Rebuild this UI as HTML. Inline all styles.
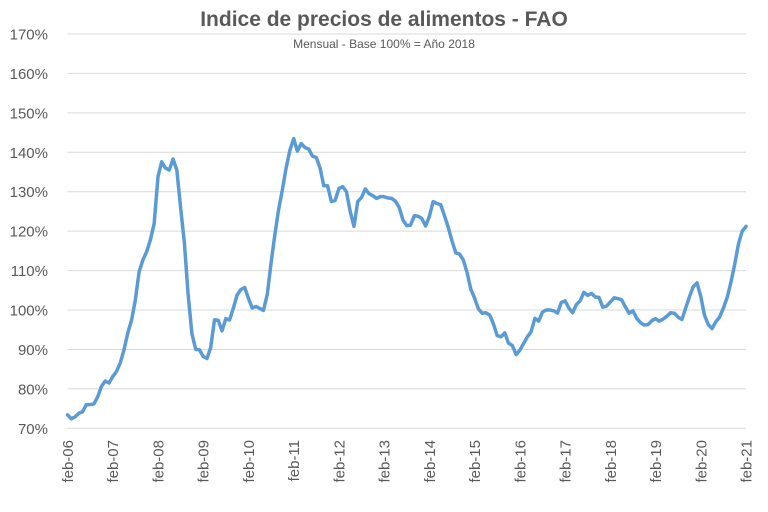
<!DOCTYPE html>
<html><head><meta charset="utf-8"><style>
body{margin:0;background:#fff;width:768px;height:507px;overflow:hidden;font-family:"Liberation Sans",sans-serif}
</style></head><body>
<svg id="chart" width="768" height="507" xmlns="http://www.w3.org/2000/svg">
<text x="384" y="26" text-anchor="middle" font-size="21" font-weight="bold" fill="#595959">Indice de precios de alimentos - FAO</text>
<text x="384" y="48" text-anchor="middle" font-size="12" fill="#595959">Mensual - Base 100% = Año 2018</text>
<g id="grid"></g>
<g id="ylabels"></g>
<g id="xlabels"></g>
<path id="line" fill="none" stroke="#5b9bd5" stroke-width="3.5" stroke-linejoin="round" stroke-linecap="round"/>
</svg>
<script>
const yTicks=[70,80,90,100,110,120,130,140,150,160,170];
const xTickLabels=["feb-06","feb-07","feb-08","feb-09","feb-10","feb-11","feb-12","feb-13","feb-14","feb-15","feb-16","feb-17","feb-18","feb-19","feb-20","feb-21"];
const values=[73.4,72.4,72.9,73.8,74.2,76.0,76.0,76.2,78.0,80.6,82.0,81.5,
83.1,84.4,86.6,89.9,94.2,97.5,102.5,109.7,112.7,114.8,117.8,122,
133.8,137.6,136,135.5,138.3,135.5,126,117,104,94,90,89.9,
88.2,87.7,90.5,97.5,97.4,94.7,97.8,97.5,100.5,103.8,105.2,105.7,
103,100.5,100.9,100.4,99.9,104,112,119,125.5,130.5,136,140.5,
143.5,140.3,142.2,141.2,140.8,139,138.7,136,131.5,131.5,127.5,127.8,
130.8,131.3,130,125,121.2,127.5,128.5,130.7,129.5,129,128.3,128.8,
128.7,128.4,128.3,127.6,126,122.8,121.4,121.5,123.9,123.8,123.2,121.3,
123.8,127.5,127,126.7,124,121,117.5,114.5,114.2,112.7,109.5,105.3,
103,100.3,99.2,99.3,98.7,96.5,93.5,93.2,94.2,91.6,91,88.7,
89.8,91.5,93.2,94.5,97.9,97.2,99.5,100,100,99.8,99.2,101.9,
102.3,100.5,99.3,101.4,102.3,104.5,103.7,104.2,103.3,103.2,100.7,101,
102,103.1,102.9,102.6,100.8,99.2,99.8,97.9,96.8,96.2,96.3,97.3,
97.8,97.2,97.7,98.4,99.3,99.2,98.2,97.6,100.5,103.4,105.9,106.9,
103.4,98.7,96.3,95.3,97,98.2,100.5,103.2,107,111.6,116.8,120,121.2];
const X0=67.5,X1=746,Y70=428.3,Y170=34;
const xs=m=>X0+m*(X1-X0)/180;
const ys=v=>Y70-(v-70)*(Y70-Y170)/100;
const NS="http://www.w3.org/2000/svg";
const grid=document.getElementById('grid'),yl=document.getElementById('ylabels'),xl=document.getElementById('xlabels');
yTicks.forEach(t=>{
 const l=document.createElementNS(NS,'line');
 
 
 l.setAttribute('x1',X0);l.setAttribute('x2',X1);l.setAttribute('y1',ys(t));l.setAttribute('y2',ys(t));
 l.setAttribute('stroke','#d9d9d9');l.setAttribute('stroke-width','1');
 grid.appendChild(l);
 const tx=document.createElementNS(NS,'text');
 
 
 tx.setAttribute('x',48);tx.setAttribute('y',ys(t)+5.5);tx.setAttribute('text-anchor','end');
 tx.setAttribute('font-size','15');tx.setAttribute('fill','#595959');
 tx.textContent=t+'%';yl.appendChild(tx);
});
xTickLabels.forEach((s,i)=>{
 const x=xs(i*12);
 const tx=document.createElementNS(NS,'text');
 
 
 tx.setAttribute('transform','translate('+(x+5.5)+',440) rotate(-90)');
 tx.setAttribute('text-anchor','end');tx.setAttribute('font-size','15');tx.setAttribute('fill','#595959');
 tx.textContent=s;xl.appendChild(tx);
});
document.getElementById('line').setAttribute('d',values.map((v,i)=>(i?'L':'M')+xs(i).toFixed(1)+','+ys(v).toFixed(1)).join(''));
</script>
</body></html>
